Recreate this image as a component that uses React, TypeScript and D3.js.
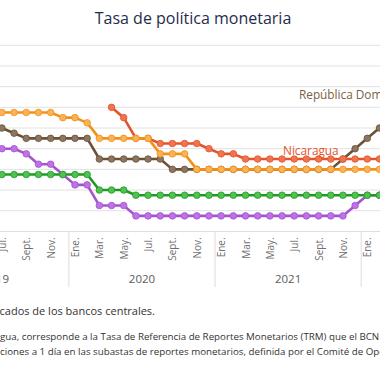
import React from "react";
import * as d3 from "d3";

// Month index: 0 = Jan 2019. Data starts Jun 2019 (index 5).
const startIndex = 5;
const monthAbbr = ["Ene.", "Feb.", "Mar.", "Abr.", "May.", "Jun.", "Jul.", "Ago.", "Sept.", "Oct.", "Nov.", "Dic."];
const years = [2019, 2020, 2021, 2022];
const tickMonths = [0, 2, 4, 6, 8, 10];

// Series values (Jun 2019 .. Feb 2022), null = no data
const honduras = [5.75, 5.75, 5.75, 5.75, 5.75, 5.75, 5.5, 5.5, 5.25, 4.5, 4.5, 4.5, 4.5, 4.5, 3.75, 3.75, 3.75, 3.0, 3.0, 3.0, 3.0, 3.0, 3.0, 3.0, 3.0, 3.0, 3.0, 3.0, 3.0, 3.0, 3.0, 3.0, 3.0];
const repDominicana = [5.5, 5.0, 4.75, 4.5, 4.5, 4.5, 4.5, 4.5, 4.5, 3.5, 3.5, 3.5, 3.5, 3.5, 3.5, 3.0, 3.0, 3.0, 3.0, 3.0, 3.0, 3.0, 3.0, 3.0, 3.0, 3.0, 3.0, 3.0, 3.0, 3.5, 4.0, 4.5, 5.0];
const guatemala = [2.75, 2.75, 2.75, 2.75, 2.75, 2.75, 2.75, 2.75, 2.75, 2.0, 2.0, 2.0, 1.75, 1.75, 1.75, 1.75, 1.75, 1.75, 1.75, 1.75, 1.75, 1.75, 1.75, 1.75, 1.75, 1.75, 1.75, 1.75, 1.75, 1.75, 1.75, 1.75, 1.75];
const costaRica = [4.0, 4.0, 4.0, 3.75, 3.25, 3.25, 2.75, 2.25, 2.25, 1.25, 1.25, 1.25, 0.75, 0.75, 0.75, 0.75, 0.75, 0.75, 0.75, 0.75, 0.75, 0.75, 0.75, 0.75, 0.75, 0.75, 0.75, 0.75, 0.75, 0.75, 1.25, 1.75, 1.75];
const nicaragua = [null, null, null, null, null, null, null, null, null, null, 6.0, 5.5, 4.5, 4.5, 4.25, 4.25, 4.25, 4.25, 4.0, 3.75, 3.75, 3.5, 3.5, 3.5, 3.5, 3.5, 3.5, 3.5, 3.5, 3.5, 3.5, 3.5, 3.5];

const gridValues = [1, 2, 3, 4, 5, 6, 7, 8, 9];

const title = "Tasa de política monetaria";
const sourceText = "Fuente: elaboración propia con datos de comunicados de los bancos centrales.";
const note1Hidden = "Nota: En el caso de Nicara";
const note1Visible = "gua, corresponde a la Tasa de Referencia de Reportes Monetarios (TRM) que el BCN utiliza como referencia para las opera-";
const note2Hidden = "opera";
const note2Visible = "ciones a 1 día en las subastas de reportes monetarios, definida por el Comité de Operaciones Monetarias.";

type Series = { name: string; values: (number | null)[]; line: string; fill: string };
const series: Series[] = [
  { name: "Costa Rica", values: costaRica, line: "#a553cf", fill: "#bd72e6" },
  { name: "Guatemala", values: guatemala, line: "#1e9a22", fill: "#52c052" },
  { name: "República Dominicana", values: repDominicana, line: "#6b5234", fill: "#8e7563" },
  { name: "Nicaragua", values: nicaragua, line: "#e2542c", fill: "#ef7450" },
  { name: "Honduras", values: honduras, line: "#f39116", fill: "#f8b25a" },
];

const FONT = "'Open Sans', Lato, sans-serif";

export default function App() {
  const W = 380, H = 380;
  const x = d3.scaleLinear().domain([12, 36]).range([75, 367.3]);
  const y = d3.scaleLinear().domain([0, 9]).range([231.4, 45.3]);
  const line = d3
    .line<{ i: number; v: number | null }>()
    .defined((d) => d.v !== null)
    .x((d) => x(d.i))
    .y((d) => y(d.v as number));

  const allMonths = d3.range(0, 48);
  const ticks = allMonths.filter((m) => tickMonths.includes(m % 12));

  return (
    <svg width={W} height={H} style={{ position: "absolute", left: 0, top: 0, background: "#fff" }} fontFamily={FONT}>
      <rect width={W} height={H} fill="#fff" />
      <text x={193} y={24} textAnchor="middle" fontSize={16} fill="#1f2d4b">{title}</text>
      {gridValues.map((g) => (
        <line key={g} x1={0} x2={W} y1={y(g)} y2={y(g)} stroke="#e2e2e2" strokeWidth={1} />
      ))}
      <line x1={0} x2={W} y1={y(0)} y2={y(0)} stroke="#dcdcdc" strokeWidth={1} />
      {years.map((yr) => (
        <line key={yr} x1={x((yr - 2019) * 12 - 0.5)} x2={x((yr - 2019) * 12 - 0.5)} y1={y(0)} y2={287} stroke="#dcdcdc" strokeWidth={1} />
      ))}
      {ticks.map((m) => (
        <text key={m} transform={`translate(${x(m)},${y(0) + 6}) rotate(-90)`} textAnchor="end" dominantBaseline="central" fontSize={10} fill="#6f6f6f">
          {monthAbbr[m % 12]}
        </text>
      ))}
      {years.map((yr) => (
        <text key={"y" + yr} x={x((yr - 2019) * 12 + 5.5)} y={283} textAnchor="middle" fontSize={11.5} fill="#5a5a5a">{yr}</text>
      ))}
      {series.map((s) => {
        const pts = s.values.map((v, k) => ({ i: startIndex + k, v }));
        return (
          <g key={s.name}>
            <path d={line(pts) || ""} fill="none" stroke={s.line} strokeWidth={2.6} strokeLinejoin="round" />
            {pts.filter((p) => p.v !== null).map((p) => (
              <circle key={p.i} cx={x(p.i)} cy={y(p.v as number)} r={3.3} fill={s.fill} stroke={s.line} strokeWidth={0.8} />
            ))}
          </g>
        );
      })}
      <text x={299} y={99} fontSize={11.8} fill="#7b6244">República Dominicana</text>
      <text x={283} y={155} fontSize={11.8} fill="#e2542c">Nicaragua</text>
      <text x={155} y={315} textAnchor="end" fontSize={11} fill="#333">{sourceText}</text>
      <text x={0} y={340} textAnchor="end" fontSize={9.75} fill="#333">{note1Hidden}</text>
      <text x={0} y={340} fontSize={9.75} fill="#333">{note1Visible}</text>
      <text x={0} y={355} textAnchor="end" fontSize={9.75} fill="#333">{note2Hidden}</text>
      <text x={0} y={355} fontSize={9.75} fill="#333">{note2Visible}</text>
    </svg>
  );
}
